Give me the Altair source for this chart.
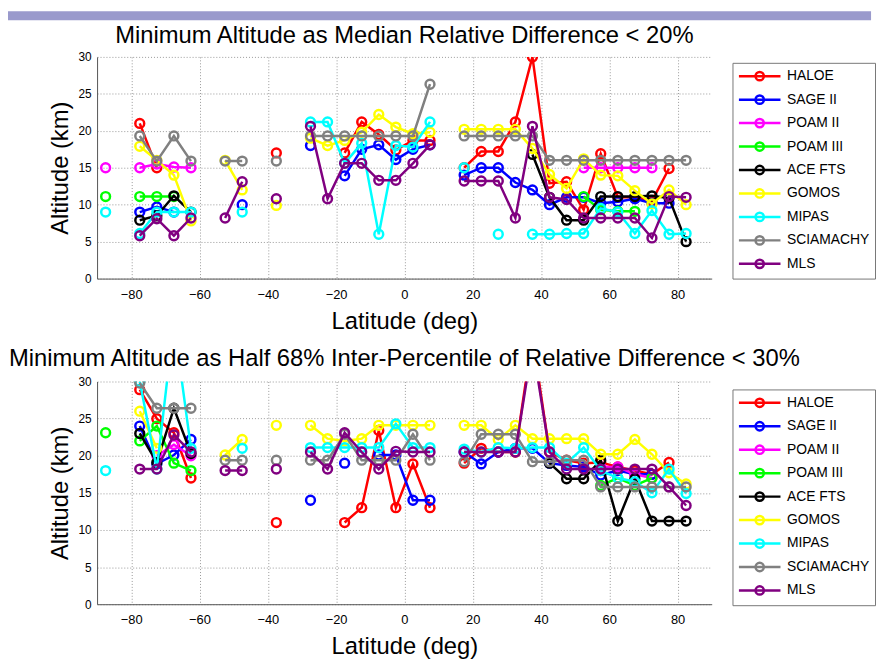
import altair as alt
import pandas as pd

_ = None

LATS = [-87.5, -82.5, -77.5, -72.5, -67.5, -62.5, -57.5, -52.5, -47.5, -42.5,
        -37.5, -32.5, -27.5, -22.5, -17.5, -12.5, -7.5, -2.5, 2.5, 7.5,
        12.5, 17.5, 22.5, 27.5, 32.5, 37.5, 42.5, 47.5, 52.5, 57.5,
        62.5, 67.5, 72.5, 77.5, 82.5]

INSTS = ["HALOE", "SAGE II", "POAM II", "POAM III", "ACE FTS", "GOMOS", "MIPAS", "SCIAMACHY", "MLS"]
COLORS = ["#ff0000", "#0000ff", "#ff00ff", "#00ff00", "#000000", "#ffff00", "#00ffff", "#808080", "#800080"]

XTICKS = [-80, -60, -40, -20, 0, 20, 40, 60, 80]
YTICKS = [0, 5, 10, 15, 20, 25, 30]

TITLE_TOP = "Minimum Altitude as Median Relative Difference < 20%"
TITLE_BOT = "Minimum Altitude as Half 68% Inter-Percentile of Relative Difference < 30%"

TOP = {
    "HALOE":     [_, _, 21.0, 15.0, _,  _, _, _, _, _,  17.0, _, _, _, 17.0,  21.2, 19.5, 17.4, 18.7, 18.7,
                  _, 15.0, 17.2, 17.2, 21.2,  30.0, 12.9, 13.1, 9.3, 16.9,  11.0, 11.0, 10.5, 14.9, _],
    "SAGE II":   [_, _, 9.0, 9.7, 9.0,  _, _, _, 10.0, _,  _, _, 18.0, _, 13.9,  17.5, 18.1, 16.1, 17.5, 18.1,
                  _, 14.0, 15.0, 15.0, 13.0,  12.0, 10.0, 11.0, 11.0, 10.2,  10.4, 10.8, 10.2, 10.2, _],
    "POAM II":   [15.0, _, 15.0, 15.5, 15.1,  15.0, _, _, _, _,  _, _, _, _, _,  _, _, _, _, _,
                  _, _, _, _, _,  _, _, _, 15.0, 15.0,  15.0, 15.0, 15.0, _, _],
    "POAM III":  [11.1, _, 11.1, 11.1, 11.1,  _, _, _, _, _,  _, _, _, _, _,  _, _, _, _, _,
                  _, _, _, _, _,  _, _, _, 11.1, 9.3,  9.1, 9.1, _, _, _],
    "ACE FTS":   [_, _, 7.9, 8.5, 11.2,  9.0, _, _, _, _,  _, _, _, _, _,  _, _, _, _, _,
                  _, _, _, _, _,  16.8, 11.0, 7.9, 7.9, 11.1,  11.1, 11.1, 11.2, 10.9, 5.0],
    "GOMOS":     [_, _, 17.9, 16.0, 14.0,  7.8, _, 16.0, 12.0, _,  9.9, _, 19.0, 18.0, 18.7,  19.8, 22.2, 20.5, 19.6, 19.8,
                  _, 20.2, 20.2, 20.2, 20.2,  17.6, 14.1, 12.2, 16.2, 14.0,  13.9, 11.9, 10.1, 12.0, 10.0],
    "MIPAS":     [9.0, _, 6.1, 9.0, 9.0,  9.0, _, _, 9.0, _,  _, _, 21.2, 21.2, 15.6,  18.3, 6.0, 18.0, 17.8, 21.2,
                  _, 15.0, _, 6.0, _,  6.0, 6.0, 6.1, 6.1, 9.5,  9.0, 6.1, 9.2, 6.0, 6.1],
    "SCIAMACHY": [_, _, 19.3, 15.9, 19.3,  15.9, _, 15.9, 15.9, _,  15.9, _, 19.3, 19.3, 19.3,  19.3, 19.3, 19.3, 19.3, 26.3,
                  _, 19.3, 19.3, 19.3, 19.3,  19.3, 16.0, 16.0, 16.0, 16.0,  16.0, 16.0, 16.0, 16.0, 16.0],
    "MLS":       [_, _, 5.8, 8.1, 5.8,  8.2, _, 8.2, 13.1, _,  10.8, _, 20.6, 10.8, 15.6,  15.6, 13.3, 13.3, 15.6, 18.1,
                  _, 13.2, 13.2, 13.2, 8.2,  20.6, 11.0, 10.7, 8.2, 8.2,  8.2, 8.2, 5.5, 11.1, 11.0],
}

BOT = {
    "HALOE":     [_, _, 28.9, 25.0, 23.1,  17.0, _, _, _, _,  11.0, _, _, _, 11.0,  13.0, 23.4, 13.0, 18.9, 13.0,
                  _, 19.0, 21.0, 20.5, 20.5,  36.0, 20.5, 19.4, 19.0, 19.1,  18.5, 18.0, 17.5, 19.1, _],
    "SAGE II":   [_, _, 24.0, 18.9, 20.1,  22.2, _, _, _, _,  _, _, 14.0, _, 19.0,  _, 20.1, 20.1, 14.0, 14.0,
                  _, 20.5, 18.9, 20.5, 21.0,  21.0, 19.0, 18.7, 18.5, 17.4,  18.0, 17.5, 17.5, _, _],
    "POAM II":   [_, _, _, 20.0, 21.5,  20.0, _, _, _, _,  _, _, _, _, _,  _, _, _, _, _,
                  _, _, _, _, _,  _, _, _, _, 18.5,  18.5, 17.5, 17.0, _, _],
    "POAM III":  [23.1, _, 22.0, 24.0, 19.0,  18.0, _, _, _, _,  _, _, _, _, _,  _, _, _, _, _,
                  _, _, _, _, _,  _, _, _, _, 16.0,  17.0, 16.0, 17.0, _, _],
    "ACE FTS":   [_, _, 23.0, 19.1, 26.4,  20.3, _, _, _, _,  _, _, _, _, _,  _, _, _, _, _,
                  _, _, _, _, _,  _, 19.0, 16.9, 16.9, 19.4,  11.2, 16.9, 11.2, 11.2, 11.2],
    "GOMOS":     [_, _, 26.0, 21.0, _,  _, _, 20.1, 22.2, _,  24.1, _, 24.1, 22.3, 22.0,  22.3, 24.1, 24.1, 24.1, 24.1,
                  _, 24.1, 24.1, 22.2, 24.1,  22.3, 22.3, 22.3, 22.3, 20.2,  20.2, 22.2, 20.2, 17.7, 16.2],
    "MIPAS":     [18.0, _, 30.0, 18.2, 38.0,  21.0, _, _, 21.0, _,  _, _, 21.1, 21.1, 21.1,  21.1, 21.1, 24.3, 21.1, 21.1,
                  _, 20.9, 20.5, 21.1, 21.0,  21.1, 21.1, 19.0, 21.1, 18.0,  17.0, 16.5, 15.0, 18.2, 14.9],
    "SCIAMACHY": [_, _, 29.8, 26.4, 26.4,  26.4, _, 19.4, 19.4, _,  19.4, _, 19.4, 19.4, 22.9,  19.4, 19.4, 19.4, 22.9, 19.4,
                  _, 19.2, 22.9, 22.9, 22.9,  19.2, 19.2, 19.4, 19.4, 15.8,  15.8, 15.8, 15.8, 15.8, 15.8],
    "MLS":       [_, _, 18.2, 18.2, 22.8,  20.5, _, 18.0, 18.0, _,  18.2, _, 20.5, 18.2, 23.1,  20.5, 18.2, 20.6, 20.5, 20.5,
                  _, 20.5, 20.5, 20.5, 20.5,  35.0, 20.5, 18.2, 18.2, 18.2,  18.2, 18.2, 18.2, 15.8, 13.3],
}

FONT = "Liberation Sans"
LEGEND_SYMBOL = "M-1,0H5M2.6,0A0.6,0.6,0,1,1,1.4,0A0.6,0.6,0,1,1,2.6,0"


def frame(table):
    rows = []
    for inst in INSTS:
        seg = 0
        for lat, v in zip(LATS, table[inst]):
            if v is None:
                seg += 1
                continue
            rows.append({"inst": inst, "lat": lat, "alt": v, "seg": f"{inst}-{seg}"})
    return pd.DataFrame(rows)


def panel(table, title, title_offset, legend_y, height, band=False):
    df = frame(table)
    x = alt.X("lat:Q", scale=alt.Scale(domain=[-90, 90], nice=False, zero=False),
              axis=alt.Axis(values=XTICKS, title="Latitude (deg)", labelFontSize=13,
                            labelPadding=10, titleFontSize=24, titlePadding=8))
    y = alt.Y("alt:Q", scale=alt.Scale(domain=[0, 30], nice=False),
              axis=alt.Axis(values=YTICKS, title="Altitude (km)", labelFontSize=12,
                            labelPadding=6, titleFontSize=24, titlePadding=6))
    color = alt.Color("inst:N", scale=alt.Scale(domain=INSTS, range=COLORS), sort=INSTS,
                      legend=alt.Legend(orient="none", legendX=642, legendY=legend_y, title=None,
                                        symbolType=LEGEND_SYMBOL, symbolSize=196, symbolStrokeWidth=2.5,
                                        symbolOpacity=1, symbolFillColor="white", labelOffset=33,
                                        labelFontSize=14, labelFont=FONT, labelColor="black",
                                        rowPadding=4.7, padding=5, strokeColor="#777",
                                        fillColor="white"))
    layers = []
    if band:
        layers.append(
            alt.Chart(pd.DataFrame({"b": [0]})).mark_rect(color="#9a9acc").encode(
                x=alt.value(-90), x2=alt.value(782), y=alt.value(-46), y2=alt.value(-37)))
    for inst in INSTS:
        base = alt.Chart(df).transform_filter(alt.datum.inst == inst)
        layers.append(base.mark_line(strokeWidth=2.5, clip=True).encode(
            x=x, y=y, color=color, detail="seg:N"))
        layers.append(base.mark_point(shape="circle", filled=False, size=80, strokeWidth=2.5,
                                      opacity=1, clip=True).encode(x=x, y=y, color=color))
    return alt.layer(*layers).properties(
        width=621, height=height,
        title=alt.TitleParams(title, offset=title_offset, fontSize=24, font=FONT,
                              fontWeight="normal", anchor="middle", frame="group", color="black"))


top = panel(TOP, TITLE_TOP, -37, 6, 224, band=True)
bottom = panel(BOT, TITLE_BOT, 5, 8, 225)

chart = alt.vconcat(top, bottom, spacing=104, bounds="flush").resolve_scale(
    color="independent"
).properties(
    padding={"left": 0, "top": 0, "right": 0, "bottom": 0}
).configure_view(strokeWidth=0).configure_axis(
    gridColor="#999", gridDash=[1, 2], gridWidth=1, domainColor="#555", domainWidth=1,
    labelColor="black", titleColor="black", labelFont=FONT, titleFont=FONT,
    titleFontWeight="normal", ticks=False, tickSize=0
)

chart.save("out.html", embed_options={"renderer": "svg", "actions": False})
